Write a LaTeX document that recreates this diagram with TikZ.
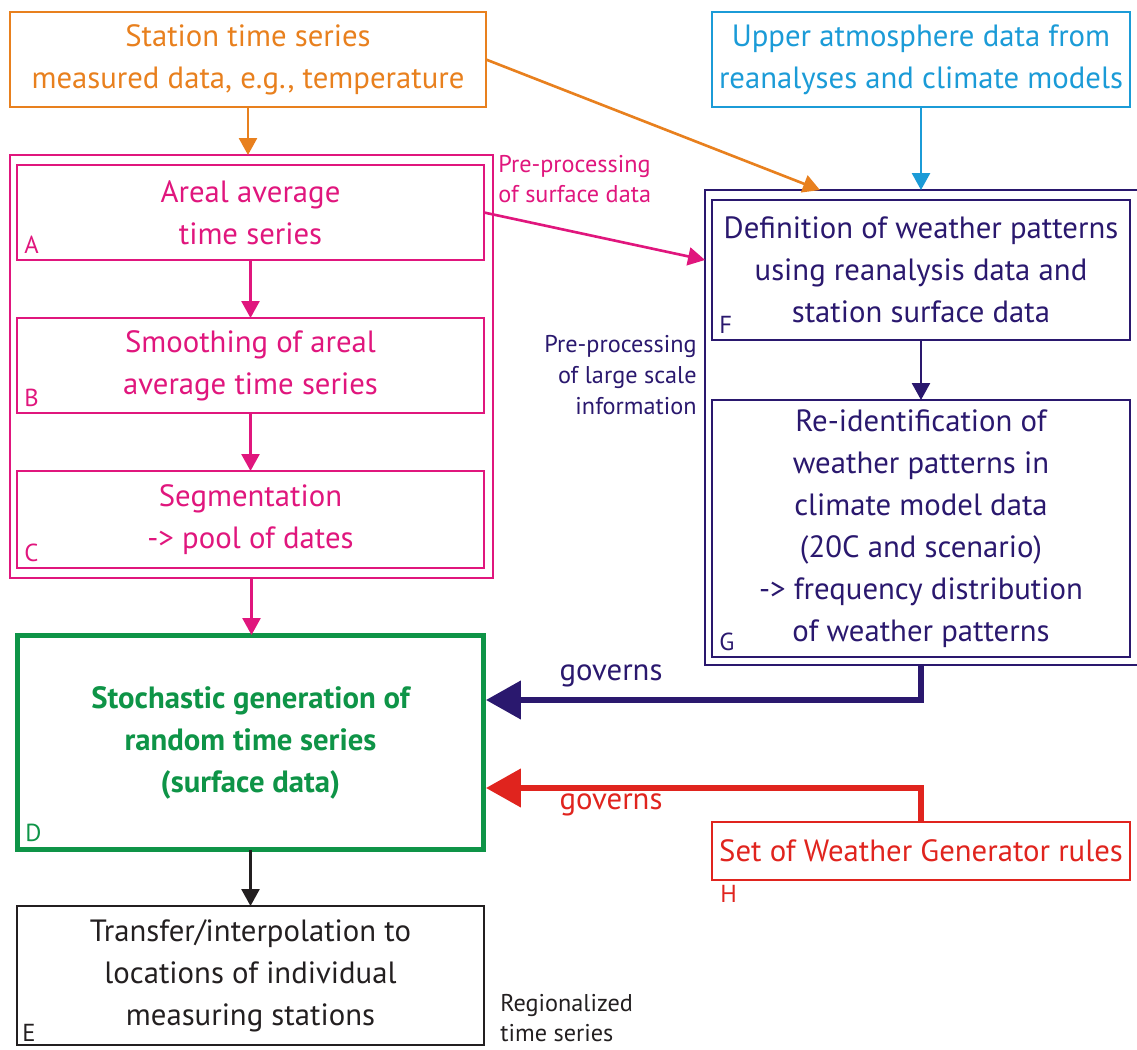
\documentclass[tikz,border=0pt]{standalone}
\usepackage{fontspec}
\setmainfont{PT Sans}
\usetikzlibrary{arrows.meta,calc}
\definecolor{corange}{RGB}{232,128,30}
\definecolor{ccyan}{RGB}{27,155,215}
\definecolor{cpink}{RGB}{224,22,125}
\definecolor{cnavy}{RGB}{42,24,110}
\definecolor{cgreen}{RGB}{14,148,71}
\definecolor{cred}{RGB}{224,36,30}
\definecolor{cblack}{RGB}{35,31,32}
\begin{document}
\begin{tikzpicture}[x=0.02cm,y=-0.02cm,
  box/.style={draw,rectangle,inner sep=0pt,outer sep=0pt,line width=1.5pt,align=center,
     font=\fontsize{17.5}{23.9}\selectfont},
  corner/.style={anchor=south west,inner sep=0pt,font=\fontsize{14}{16}\selectfont},
  small/.style={inner sep=0pt,font=\fontsize{13.8}{17.5}\selectfont},
  thin/.style={line width=1.5pt,-{Triangle[length=0.34cm,width=0.36cm]}},
  thick/.style={line width=3.4pt,-{Triangle[length=0.7cm,width=0.75cm]}}]
\useasboundingbox (0,0) rectangle (1137,1050);

% top boxes
\node[box,draw=corange,text=corange,minimum width=9.52cm,minimum height=1.9cm] (S) at (248,59.5)
  {Station time series\\measured data, e.g., temperature};
\node[box,draw=ccyan,text=ccyan,minimum width=8.36cm,minimum height=1.9cm] (U) at (921,59.5)
  {Upper atmosphere data from\\reanalyses and climate models};

% pink group
\node[box,draw=cpink,minimum width=9.66cm,minimum height=8.46cm] (P) at (251.5,366.5) {};
\node[box,draw=cpink,text=cpink,minimum width=9.34cm,minimum height=1.9cm] (A) at (250.5,212.5)
  {Areal average\\time series};
\node[box,draw=cpink,text=cpink,minimum width=9.34cm,minimum height=1.9cm] (B) at (250.5,365.5)
  {Smoothing of areal\\average time series};
\node[box,draw=cpink,text=cpink,minimum width=9.34cm,minimum height=1.94cm] (C) at (250.5,519.5)
  {Segmentation\\-> pool of dates};
\node[corner,text=cpink] (Al) at ([shift={(0.14cm,0.12cm)}]A.south west) {A};
\node[corner,text=cpink] (Bl) at ([shift={(0.14cm,0.12cm)}]B.south west) {B};
\node[corner,text=cpink] (Cl) at ([shift={(0.14cm,0.12cm)}]C.south west) {C};

% D and E
\node[box,draw=cgreen,text=cgreen,line width=2.85pt,minimum width=9.34cm,minimum height=4.3cm,
  font=\fontsize{17.5}{23.9}\selectfont\bfseries] (D) at (250.5,742.5)
  {Stochastic generation of\\random time series\\(surface data)};
\node[corner,text=cgreen] (Dl) at ([shift={(0.16cm,0.16cm)}]D.south west) {D};
\node[box,draw=cblack,text=cblack,minimum width=9.34cm,minimum height=2.78cm] (E) at (250.5,975.5)
  {Transfer/interpolation to\\locations of individual\\measuring stations};
\node[corner,text=cblack] (El) at ([shift={(0.1cm,0.06cm)}]E.south west) {E};

% navy group
\node[box,draw=cnavy,minimum width=8.8cm,minimum height=9.5cm] (Fo) at (925,427.5) {};
\node[box,draw=cnavy,text=cnavy,minimum width=8.36cm,minimum height=2.8cm] (F) at (921,270)
  {Definition of weather patterns\\using reanalysis data and\\station surface data};
\node[box,draw=cnavy,text=cnavy,minimum width=8.36cm,minimum height=5.14cm] (G) at (921,528.5)
  {Re-identification of\\weather patterns in\\climate model data\\(20C and scenario)\\-> frequency distribution\\of weather patterns};
\node[corner,text=cnavy] (Fl) at ([shift={(0.14cm,0.12cm)}]F.south west) {F};
\node[corner,text=cnavy] (Gl) at ([shift={(0.14cm,0.12cm)}]G.south west) {G};

% H
\node[box,draw=cred,text=cred,minimum width=8.36cm,minimum height=1.16cm] (H) at (921,851)
  {Set of Weather Generator rules};
\node[corner,anchor=north west,text=cred] (Hl) at ([shift={(0.16cm,-0.1cm)}]H.south west) {H};

% small labels
\node[small,text=cpink,align=left,anchor=west] (L1) at (498,179) {Pre-processing\\of surface data};
\node[small,text=cnavy,align=right,anchor=east] (L2) at (697,375) {Pre-processing\\of large scale\\information};
\node[small,text=cblack,align=left,anchor=west] (L3) at (500,1018) {Regionalized\\time series};
\node[box,draw=none,text=cnavy] (g1) at (611,676) {governs};
\node[box,draw=none,text=cred] (g2) at (611,805) {governs};

% connectors
\draw[thin,corange] (S.south) -- (S.south |- P.north);
\draw[thin,corange] (S.east) -- ([xshift=2.3cm]Fo.north west);
\draw[thin,ccyan] (U.south) -- (U.south |- Fo.north);
\draw[thin,cpink] (A.south) -- (B.north);
\draw[thin,cpink] (B.south) -- (C.north);
\draw[thin,cpink] (P.south) -- (P.south |- D.north);
\draw[thin,cpink] (A.east) -- ($(F.west -| Fo.west)+(0,-10)$);
\draw[thin,cnavy] (F.south) -- (G.north);
\draw[thin,cblack] (D.south) -- (E.north);
\draw[thick,cnavy] (G.south |- Fo.south) |- ($(D.east)+(2,-42.5)$);
\draw[thick,cred] (H.north) |- ($(D.east)+(2,45.5)$);
\end{tikzpicture}
\end{document}
